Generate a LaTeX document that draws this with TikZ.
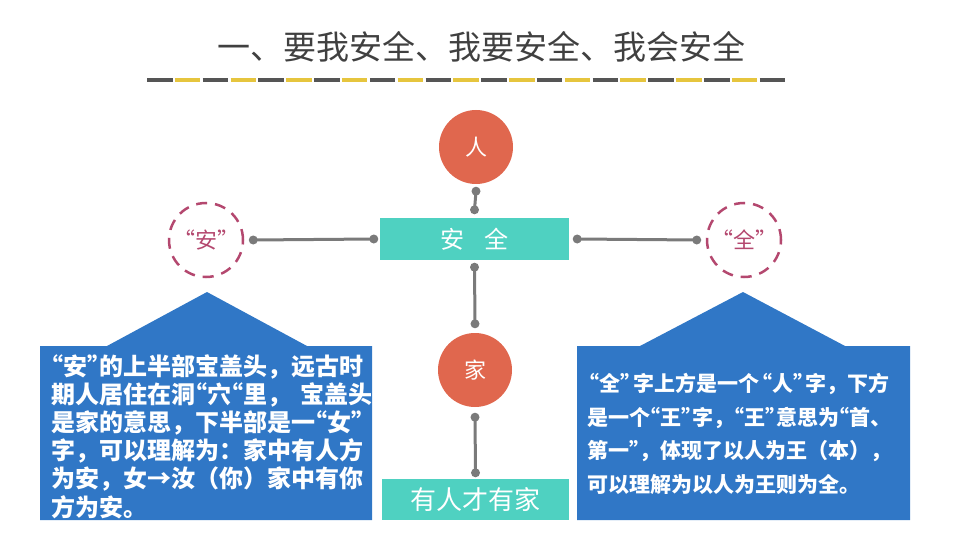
\documentclass[tikz,border=0pt]{standalone}
\usepackage{fontspec}
\newfontfamily\cjk{Noto Sans CJK SC}
\usetikzlibrary{calc}

\definecolor{titleColour}{HTML}{404040}
\definecolor{dashDark}{HTML}{555555}
\definecolor{dashYellow}{HTML}{E6C53E}
\definecolor{coralColour}{HTML}{E0674E}
\definecolor{tealColour}{HTML}{4FD1C1}
\definecolor{blueColour}{HTML}{3077C6}
\definecolor{roseColour}{HTML}{B4486F}
\definecolor{lineColour}{HTML}{7A7A7A}

% Narrow quote marks
\def\quoteWidth{0.5em}
\newcommand{\qo}{\makebox[\quoteWidth][r]{“}}
\newcommand{\qc}{\makebox[\quoteWidth][l]{”}}

\tikzset{
    solidCircle/.style={circle, fill=coralColour, minimum size=74pt, inner sep=0pt,
        text=white, font=\cjk\fontsize{22}{22}\selectfont},
    dashCircle/.style={circle, draw=roseColour, line width=2.5pt, dash pattern=on 11pt off 8pt,
        minimum size=74pt, inner sep=0pt, text=roseColour, font=\cjk\fontsize{22}{22}\selectfont},
    tealBox/.style={rectangle, fill=tealColour, inner sep=0pt, text=white},
    connector/.style={draw=lineColour, line width=3pt},
    calloutBox/.style={fill=blueColour},
    calloutText/.style={anchor=north west, inner sep=0pt, align=left, text=white}
}

\begin{document}
\begin{tikzpicture}[x=1pt, y=-1pt]

    % Fix the page size
    \useasboundingbox (0,0) rectangle (960,540);

    % Title
    \node[text=titleColour, font=\cjk\fontsize{33}{33}\selectfont] (title) at (481,47)
        {一、要我安全、我要安全、我会安全};

    % Dashed rule under the title
    \foreach \i in {0,...,22} {
        \pgfmathsetmacro{\xa}{147+\i*27.85}
        \pgfmathsetmacro{\xb}{\xa+25.5}
        \ifodd\i
            \draw[dashYellow, line width=4pt] (\xa,80) -- (\xb,80);
        \else
            \draw[dashDark, line width=4pt] (\xa,80) -- (\xb,80);
        \fi
    }

    % Main nodes
    \node[solidCircle] (ren) at (476,147) {人};
    \node[tealBox, minimum width=189pt, minimum height=42pt,
        font=\cjk\fontsize{24}{24}\selectfont] (anquan) at (474.5,239) {安\hspace{0.85em}全};
    \node[dashCircle] (an) at (206,240) {\qo 安\qc};
    \node[dashCircle] (quan) at (744,240) {\qo 全\qc};
    \node[solidCircle] (jia) at (475,370) {家};
    \node[tealBox, minimum width=187pt, minimum height=41pt,
        font=\cjk\fontsize{26}{26}\selectfont] (youren) at (475.5,499.5) {有人才有家};

    % Connector end points
    \coordinate (renDot)    at ($(ren.south)+(0,7)$);
    \coordinate (topDot)    at ($(anquan.north)+(0,-8)$);
    \coordinate (leftDotA)  at ($(an.east)+(9,0)$);
    \coordinate (leftDotB)  at ($(anquan.west)+(-6,0)$);
    \coordinate (rightDotA) at ($(anquan.east)+(8,0)$);
    \coordinate (rightDotB) at ($(quan.west)+(-9,0)$);
    \coordinate (midDotA)   at ($(anquan.south)+(0,7)$);
    \coordinate (midDotB)   at ($(jia.north)+(0,-9)$);
    \coordinate (jiaDot)    at ($(jia.south)+(0,10)$);
    \coordinate (bottomDot) at ($(youren.north)+(0,-6)$);

    % Connectors with dotted ends
    \foreach \a/\b in {renDot/topDot, leftDotA/leftDotB, rightDotA/rightDotB,
                       midDotA/midDotB, jiaDot/bottomDot} {
        \draw[connector] (\a) -- (\b);
        \fill[lineColour] (\a) circle (4.5pt) (\b) circle (4.5pt);
    }

    % Left callout
    \fill[calloutBox] (40,346) -- (107,346) -- (207,292) -- (307,346) -- (372,346)
        -- (372,520) -- (40,520) -- cycle;
    \node[calloutText, font=\cjk\bfseries\fontsize{24}{28.2}\selectfont] (anText) at (51,354)
        {\qo 安\qc 的上半部宝盖头，远古时\\
         期人居住在洞\qo 穴\qo 里，\hspace{0.4em}宝盖头\\
         是家的意思，下半部是一\qo 女\qc\\
         字，可以理解为：家中有人方\\
         为安，女→汝（你）家中有你\\
         方为安。};

    % Right callout
    \fill[calloutBox] (577,346) -- (640,346) -- (743,292) -- (845,346) -- (910,346)
        -- (910,520) -- (577,520) -- cycle;
    \node[calloutText, font=\cjk\bfseries\fontsize{21}{33.5}\selectfont] (quanText) at (587,373)
        {\def\quoteWidth{0.6em}%
         \qo 全\qc 字上方是一个\qo 人\qc 字，下方\\
         是一个\qo 王\qc 字，\qo 王\qc 意思为\qo 首、\\
         第一\qc ，体现了以人为王（本），\\
         可以理解为以人为王则为全。};

\end{tikzpicture}
\end{document}
